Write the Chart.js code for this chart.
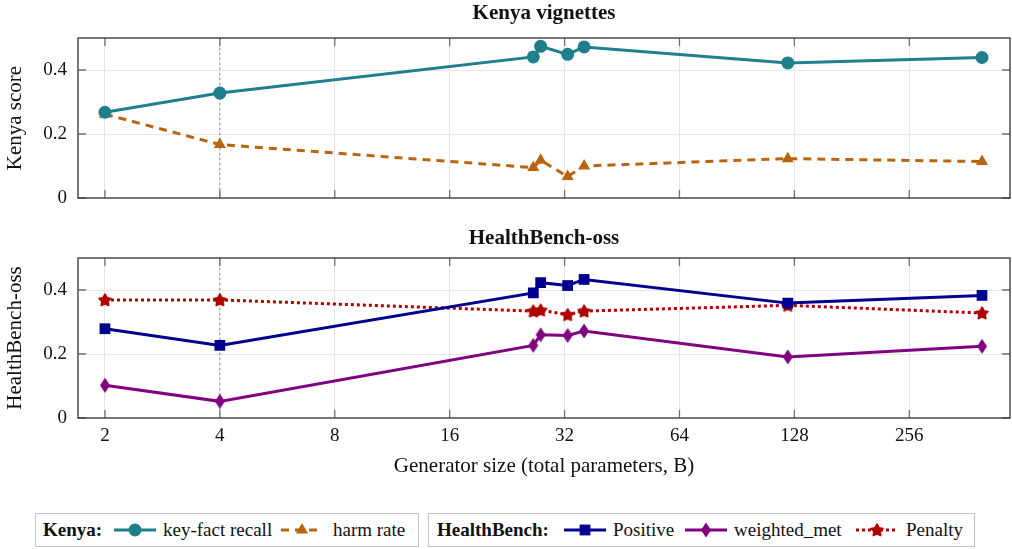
<!DOCTYPE html>
<html><head><meta charset="utf-8">
<script src="https://cdn.jsdelivr.net/npm/chart.js@4"></script>
<style>
html,body{margin:0;padding:0;background:#fff;}
body{width:1012px;height:549px;position:relative;overflow:hidden;font-family:"Liberation Serif",serif;}
#c1{position:absolute;left:0;top:0;}
#c2{position:absolute;left:0;top:225px;}
.box{position:absolute;top:513px;height:34px;border:1px solid #c4c4c4;box-sizing:border-box;}
.lg{position:absolute;top:519px;font-size:19px;line-height:22px;white-space:nowrap;color:#111;}
.sw{position:absolute;top:519px;}
</style></head>
<body>
<canvas id="c1" width="1012" height="230" style="width:1012px;height:230px"></canvas>
<canvas id="c2" width="1012" height="260" style="width:1012px;height:260px"></canvas>
<div class="box" style="left:35px;width:384px"></div>
<div class="box" style="left:428px;width:547px"></div>
<div class="lg" style="left:43px;font-weight:bold">Kenya:</div>
<canvas class="sw" id="s1" width="44" height="22" style="left:113px"></canvas>
<div class="lg" style="left:163px">key-fact recall</div>
<canvas class="sw" id="s2" width="44" height="22" style="left:280px"></canvas>
<div class="lg" style="left:333px">harm rate</div>
<div class="lg" style="left:437px;font-weight:bold">HealthBench:</div>
<canvas class="sw" id="s3" width="44" height="22" style="left:563px"></canvas>
<div class="lg" style="left:613px">Positive</div>
<canvas class="sw" id="s4" width="44" height="22" style="left:684px"></canvas>
<div class="lg" style="left:734px">weighted_met</div>
<canvas class="sw" id="s5" width="44" height="22" style="left:855px"></canvas>
<div class="lg" style="left:906px">Penalty</div>
<script>
// ---- data ----
const sizes = [2, 4, 26.5, 27.7, 32.6, 36, 123, 397];
const keyFactRecall = [0.268, 0.328, 0.441, 0.474, 0.449, 0.472, 0.422, 0.439];
const harmRate = [0.262, 0.167, 0.095, 0.118, 0.067, 0.100, 0.123, 0.114];
const positive = [0.279, 0.227, 0.391, 0.423, 0.414, 0.433, 0.359, 0.383];
const weightedMet = [0.102, 0.052, 0.227, 0.260, 0.258, 0.272, 0.191, 0.224];
const penalty = [0.369, 0.369, 0.334, 0.337, 0.323, 0.334, 0.352, 0.328];
const xTicks = [2, 4, 8, 16, 32, 64, 128, 256];
const yTicks = [0, 0.2, 0.4];

const FONT = '"Liberation Serif", serif';
const C_TEAL = '#1f7f8c', C_ORANGE = '#b8650f', C_NAVY = '#00008f', C_PURPLE = '#800080', C_RED = '#b00000';

function pts(ys){ return sizes.map((x,i)=>({x:x, y:ys[i]})); }

function makeDiamond(color){
  const c = document.createElement('canvas'); c.width = 14; c.height = 18;
  const g = c.getContext('2d');
  g.fillStyle = color; g.beginPath();
  g.moveTo(7,1.5); g.lineTo(12,9); g.lineTo(7,16.5); g.lineTo(2,9); g.closePath(); g.fill();
  return c;
}
function makeStar(color){
  const c = document.createElement('canvas'); c.width = 18; c.height = 18;
  const g = c.getContext('2d');
  g.fillStyle = color; g.strokeStyle = color; g.lineWidth = 1.6; g.lineJoin = 'round';
  g.beginPath();
  for(let k=0;k<10;k++){
    const r = (k%2===0) ? 6.3 : 3.4;
    const a = -Math.PI/2 + k*Math.PI/5;
    const px = 9 + r*Math.cos(a), py = 9.5 + r*Math.sin(a);
    if(k===0) g.moveTo(px,py); else g.lineTo(px,py);
  }
  g.closePath(); g.fill(); g.stroke();
  return c;
}
const diamondImg = makeDiamond(C_PURPLE);
const starImg = makeStar(C_RED);

const framePlugin = {
  id: 'frame',
  beforeDatasetsDraw(chart){
    const {ctx, chartArea:a, scales} = chart;
    const x4 = scales.x.getPixelForValue(4);
    ctx.save();
    ctx.strokeStyle = '#9a9a9a'; ctx.lineWidth = 1.2; ctx.setLineDash([2,3]);
    ctx.beginPath(); ctx.moveTo(x4, a.top); ctx.lineTo(x4, a.bottom); ctx.stroke();
    ctx.restore();
  },
  afterDraw(chart){
    const {ctx, chartArea:a, scales} = chart;
    ctx.save();
    ctx.strokeStyle = '#707070'; ctx.lineWidth = 1.3;
    const L = 8;
    ctx.beginPath();
    xTicks.forEach(v=>{
      const px = scales.x.getPixelForValue(v);
      ctx.moveTo(px, a.top); ctx.lineTo(px, a.top + L);
      ctx.moveTo(px, a.bottom); ctx.lineTo(px, a.bottom - L);
    });
    yTicks.forEach(v=>{
      const py = scales.y.getPixelForValue(v);
      ctx.moveTo(a.left, py); ctx.lineTo(a.left + L, py);
      ctx.moveTo(a.right, py); ctx.lineTo(a.right - L, py);
    });
    ctx.stroke();
    ctx.strokeStyle = '#303030'; ctx.lineWidth = 1.3;
    ctx.strokeRect(a.left, a.top, a.right - a.left, a.bottom - a.top);
    // title
    ctx.fillStyle = '#111'; ctx.font = 'bold 21px ' + FONT;
    ctx.textAlign = 'center'; ctx.textBaseline = 'middle';
    ctx.fillText(chart.options.plugins.panelTitle.text, (a.left + a.right)/2, 14);
    ctx.restore();
  }
};

function makeOptions(title, yTitle, showXLabels, xAxisHeight, padTop){
  return {
    responsive: false, animation: false, devicePixelRatio: 1,
    layout: { autoPadding: false, padding: { left: 0, right: 2, top: padTop, bottom: 0 } },
    plugins: { legend: { display: false }, tooltip: { enabled: false }, panelTitle: { text: title } },
    scales: {
      x: {
        type: 'logarithmic', min: 1.70, max: 470,
        afterBuildTicks(s){ s.ticks = xTicks.map(v=>({value:v})); },
        afterFit(s){ s.height = xAxisHeight; },
        grid: { color: '#e6e6e6', lineWidth: 1, drawTicks: false },
        border: { display: false },
        ticks: { display: showXLabels, padding: 7, color: '#111', font: { family: FONT, size: 19 }, autoSkip: false, maxRotation: 0,
                 callback: (v)=>String(v) },
        title: { display: showXLabels, text: 'Generator size (total parameters, B)', color: '#111',
                 font: { family: FONT, size: 21 }, padding: { top: 0, bottom: 6 } }
      },
      y: {
        min: 0, max: 0.5,
        afterBuildTicks(s){ s.ticks = yTicks.map(v=>({value:v})); },
        afterFit(s){ s.width = 78; },
        grid: { color: (c)=> c.tick && c.tick.value === 0 ? 'rgba(0,0,0,0)' : '#e6e6e6', lineWidth: 1, drawTicks: false },
        border: { display: false },
        ticks: { padding: 11, color: '#111', font: { family: FONT, size: 19 }, callback: (v)=> v === 0 ? '0' : String(v) },
        title: { display: true, text: yTitle, color: '#111', font: { family: FONT, size: 21 }, padding: { top: 3, bottom: 0 } }
      }
    }
  };
}

new Chart(document.getElementById('c1'), {
  type: 'line',
  data: { datasets: [
    { label: 'key-fact recall', data: pts(keyFactRecall), borderColor: C_TEAL, backgroundColor: C_TEAL, borderWidth: 3,
      pointStyle: 'circle', pointRadius: 6.5, pointBorderWidth: 0, pointBackgroundColor: C_TEAL },
    { label: 'harm rate', data: pts(harmRate), borderColor: C_ORANGE, backgroundColor: C_ORANGE, borderWidth: 3, borderDash: [8,6],
      pointStyle: 'triangle', pointRadius: 7, pointBorderWidth: 0, pointBackgroundColor: C_ORANGE }
  ]},
  options: makeOptions('Kenya vignettes', 'Kenya score', false, 32, 38),
  plugins: [framePlugin]
});

new Chart(document.getElementById('c2'), {
  type: 'line',
  data: { datasets: [
    { label: 'Positive', data: pts(positive), borderColor: C_NAVY, backgroundColor: C_NAVY, borderWidth: 3,
      pointStyle: 'rect', pointRadius: 7.6, pointBorderWidth: 0, pointBackgroundColor: C_NAVY },
    { label: 'weighted_met', data: pts(weightedMet), borderColor: C_PURPLE, backgroundColor: C_PURPLE, borderWidth: 3,
      pointStyle: diamondImg, pointRadius: 7 },
    { label: 'Penalty', data: pts(penalty), borderColor: C_RED, backgroundColor: C_RED, borderWidth: 3, borderDash: [3,3],
      pointStyle: starImg, pointRadius: 7 }
  ]},
  options: makeOptions('HealthBench-oss', 'HealthBench-oss', true, 67, 33),
  plugins: [framePlugin]
});

// legend swatches
function swatch(id, color, dash, marker){
  const g = document.getElementById(id).getContext('2d');
  g.strokeStyle = color; g.fillStyle = color; g.lineWidth = 3; g.setLineDash(dash);
  g.beginPath(); g.moveTo(1, 11); g.lineTo(43, 11); g.stroke(); g.setLineDash([]);
  const cx = 22, cy = 11;
  g.beginPath();
  if(marker === 'circle'){ g.arc(cx, cy, 6.5, 0, Math.PI*2); g.fill(); }
  else if(marker === 'triangle'){ g.moveTo(cx, cy-7); g.lineTo(cx+6.06, cy+3.5); g.lineTo(cx-6.06, cy+3.5); g.closePath(); g.fill(); }
  else if(marker === 'rect'){ g.fillRect(cx-5.4, cy-5.4, 10.8, 10.8); }
  else if(marker === 'diamond'){ g.drawImage(diamondImg, cx-7, cy-9); }
  else if(marker === 'star'){ g.drawImage(starImg, cx-9, cy-9); }
}
swatch('s1', C_TEAL, [], 'circle');
swatch('s2', C_ORANGE, [8,6], 'triangle');
swatch('s3', C_NAVY, [], 'rect');
swatch('s4', C_PURPLE, [], 'diamond');
swatch('s5', C_RED, [3,3], 'star');
</script>
</body></html>
